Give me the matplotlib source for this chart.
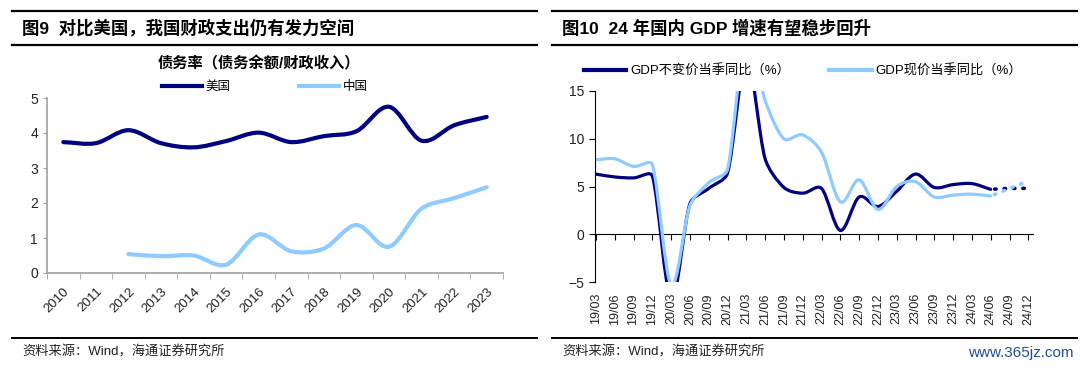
import matplotlib
matplotlib.use('Agg')
import matplotlib.pyplot as plt
from matplotlib.path import Path
from matplotlib.patches import PathPatch
from matplotlib.lines import Line2D
import numpy as np

plt.rcParams['font.family'] = ['Liberation Sans', 'Noto Sans CJK SC']

# Left chart: debt ratio (debt balance / fiscal revenue)
years = ['2010', '2011', '2012', '2013', '2014', '2015', '2016',
         '2017', '2018', '2019', '2020', '2021', '2022', '2023']
us_ratio = [3.74, 3.71, 4.08, 3.71, 3.59, 3.77, 4.01,
            3.74, 3.91, 4.05, 4.75, 3.78, 4.22, 4.46]
cn_start = 2  # China series begins in 2012
cn_ratio = [0.54, 0.48, 0.50, 0.24, 1.10, 0.62, 0.70, 1.37, 0.75, 1.84, 2.14, 2.45]

# Right chart: quarterly GDP yoy (%)
quarters = ['19/03', '19/06', '19/09', '19/12', '20/03', '20/06', '20/09', '20/12',
            '21/03', '21/06', '21/09', '21/12', '22/03', '22/06', '22/09', '22/12',
            '23/03', '23/06', '23/09', '23/12', '24/03', '24/06', '24/09', '24/12']
gdp_real = [6.3, 6.0, 5.9, 6.1, -6.8, 3.2, 4.8, 6.4,
            18.3, 7.9, 4.9, 4.3, 4.8, 0.4, 3.9, 2.9,
            4.5, 6.3, 4.9, 5.2, 5.3, 4.7]
gdp_nominal = [7.8, 7.9, 7.1, 7.3, -5.3, 3.0, 5.4, 6.8,
               21.2, 14.0, 10.0, 10.4, 8.6, 3.4, 5.7, 2.6,
               5.0, 5.5, 3.9, 4.1, 4.2, 4.0]
real_fcst = [4.8, 4.8]      # 24/09, 24/12
nominal_fcst = [4.8, 5.6]   # 24/09, 24/12

navy = '#000080'
light = '#8FCBFF'
W, H = 1080, 368


def smooth_path(xs, ys, sx, sy):
    """Smoothed line as cubic bezier path (built in pixel space, sx/sy = px per unit)"""
    pts = np.column_stack([np.asarray(xs, float) * sx, np.asarray(ys, float) * sy])
    n = len(pts)
    tang = []
    for i in range(n):
        d = pts[min(i + 1, n - 1)] - pts[max(i - 1, 0)]
        tang.append(d / np.hypot(*d))
    verts = [pts[0]]
    codes = [Path.MOVETO]
    for i in range(n - 1):
        seg = pts[i + 1] - pts[i]
        arm = np.hypot(*seg) / 3
        arm_a = min(arm, abs(seg[0]) / 3 / max(abs(tang[i][0]), 1e-6))
        arm_b = min(arm, abs(seg[0]) / 3 / max(abs(tang[i + 1][0]), 1e-6))
        verts += [pts[i] + tang[i] * arm_a, pts[i + 1] - tang[i + 1] * arm_b, pts[i + 1]]
        codes += [Path.CURVE4] * 3
    verts = np.array(verts) / [sx, sy]
    return Path(verts, codes)


def add_line(ax, xs, ys, sx, sy, color, lw, ls='-'):
    patch = PathPatch(smooth_path(xs, ys, sx, sy), fill=False, edgecolor=color, lw=lw,
                      linestyle=ls, capstyle='round', joinstyle='round')
    ax.add_patch(patch)


def fx(px):
    return px / W


def fy(py):
    return 1 - py / H


fig = plt.figure(figsize=(W / 100, H / 100), dpi=100)

# Header / footer rules and texts
for x0, x1 in [(12, 537), (552, 1077)]:
    for yy, lw in [(11, 1.6), (45, 1.6), (338, 1.4)]:
        fig.add_artist(Line2D([fx(x0), fx(x1)], [fy(yy)] * 2, color='black', lw=lw))

fig.text(fx(22), fy(28), '图9  对比美国，我国财政支出仍有发力空间',
         fontsize=12.5, fontweight='bold', va='center')
fig.text(fx(562), fy(28), '图10  24 年国内 GDP 增速有望稳步回升',
         fontsize=12.5, fontweight='bold', va='center')
fig.text(fx(22), fy(352), '资料来源：Wind，海通证券研究所', fontsize=9.5, va='center', color='#222222')
fig.text(fx(562), fy(352), '资料来源：Wind，海通证券研究所', fontsize=9.5, va='center', color='#222222')
fig.text(fx(1074), fy(353), 'www.365jz.com', fontsize=11, ha='right', va='center', color='#1F4E9A')

# ---------------- Left chart ----------------
ax1 = fig.add_axes([fx(47), fy(273), fx(503 - 47), (273 - 98) / H])
x = np.arange(len(years))
sx1, sy1 = 456 / 14, 175 / 5
add_line(ax1, x, us_ratio, sx1, sy1, navy, 3.0)
add_line(ax1, x[cn_start:], cn_ratio, sx1, sy1, light, 3.0)
ax1.set_xlim(-0.5, len(years) - 0.5)
ax1.set_ylim(0, 5)
ax1.set_yticks(range(0, 6))
ax1.set_xticks(x)
ax1.set_xticklabels(years, rotation=45, ha='right', va='top', rotation_mode='anchor')
ax1.set_xticks(np.arange(len(years) + 1) - 0.5, minor=True)
ax1.tick_params(axis='x', which='major', length=0, pad=9, labelsize=9.5, labelcolor='#222222')
ax1.tick_params(axis='x', which='minor', length=4, color='#A0A0A0')
ax1.tick_params(axis='y', length=3, color='#A0A0A0', labelsize=10, labelcolor='#222222')
for side in ['top', 'right']:
    ax1.spines[side].set_visible(False)
for side in ['left', 'bottom']:
    ax1.spines[side].set_color('#A0A0A0')
    ax1.spines[side].set_linewidth(1.2)

fig.text(fx(259), fy(64), '债务率（债务余额/财政收入）', ha='center', va='center',
         fontsize=11, fontweight='bold')
ax1.legend(handles=[Line2D([], [], color=navy, lw=3, label='美国'),
                    Line2D([], [], color=light, lw=3, label='中国')],
           ncol=2, loc='center', bbox_to_anchor=(fx(265), fy(87)),
           bbox_transform=fig.transFigure, frameon=False, fontsize=9,
           handlelength=3.2, columnspacing=5.5, handletextpad=0.3)

# ---------------- Right chart ----------------
ax2 = fig.add_axes([fx(595), fy(282), fx(1033 - 595), (282 - 91) / H])
q = np.arange(len(quarters))
n_act = len(gdp_real)
sx2, sy2 = 18.8, 191 / 20
add_line(ax2, q[:n_act], gdp_real, sx2, sy2, navy, 2.3)
add_line(ax2, q[:n_act], gdp_nominal, sx2, sy2, light, 2.3)
dots = (1.5, (0.4, 2.2))
add_line(ax2, q[n_act - 1:], [gdp_real[-1]] + real_fcst, sx2, sy2, navy, 2.6, ls=dots)
add_line(ax2, q[n_act - 1:], [gdp_nominal[-1]] + nominal_fcst, sx2, sy2, light, 2.6, ls=dots)
ax2.set_xlim(-0.05, len(quarters) - 0.75)
ax2.set_ylim(-5, 15)
ax2.set_yticks([-5, 0, 5, 10, 15])
ax2.set_xticks(q)
ax2.set_xticklabels(quarters, rotation=90, ha='center', va='top')
ax2.tick_params(axis='x', length=0, pad=8, labelsize=9, labelcolor='#222222')
ax2.tick_params(axis='y', length=4, color='black', labelsize=10, labelcolor='#222222')
for side in ['top', 'right', 'bottom']:
    ax2.spines[side].set_visible(False)
ax2.spines['left'].set_color('black')

# zero line with tick marks
zero_axis = ax2.secondary_xaxis(5 / 20)
zero_axis.set_xticks(q)
zero_axis.set_xticklabels([])
zero_axis.tick_params(length=4, direction='out', color='black')
zero_axis.spines['bottom'].set_color('black')

ax2.legend(handles=[Line2D([], [], color=navy, lw=3, label='GDP不变价当季同比（%）'),
                    Line2D([], [], color=light, lw=3, label='GDP现价当季同比（%）')],
           ncol=2, loc='center', bbox_to_anchor=(fx(803), fy(71)),
           bbox_transform=fig.transFigure, frameon=False, fontsize=9.5,
           handlelength=3.2, columnspacing=3.0, handletextpad=0.3)

fig.savefig('out.png', dpi=100)
